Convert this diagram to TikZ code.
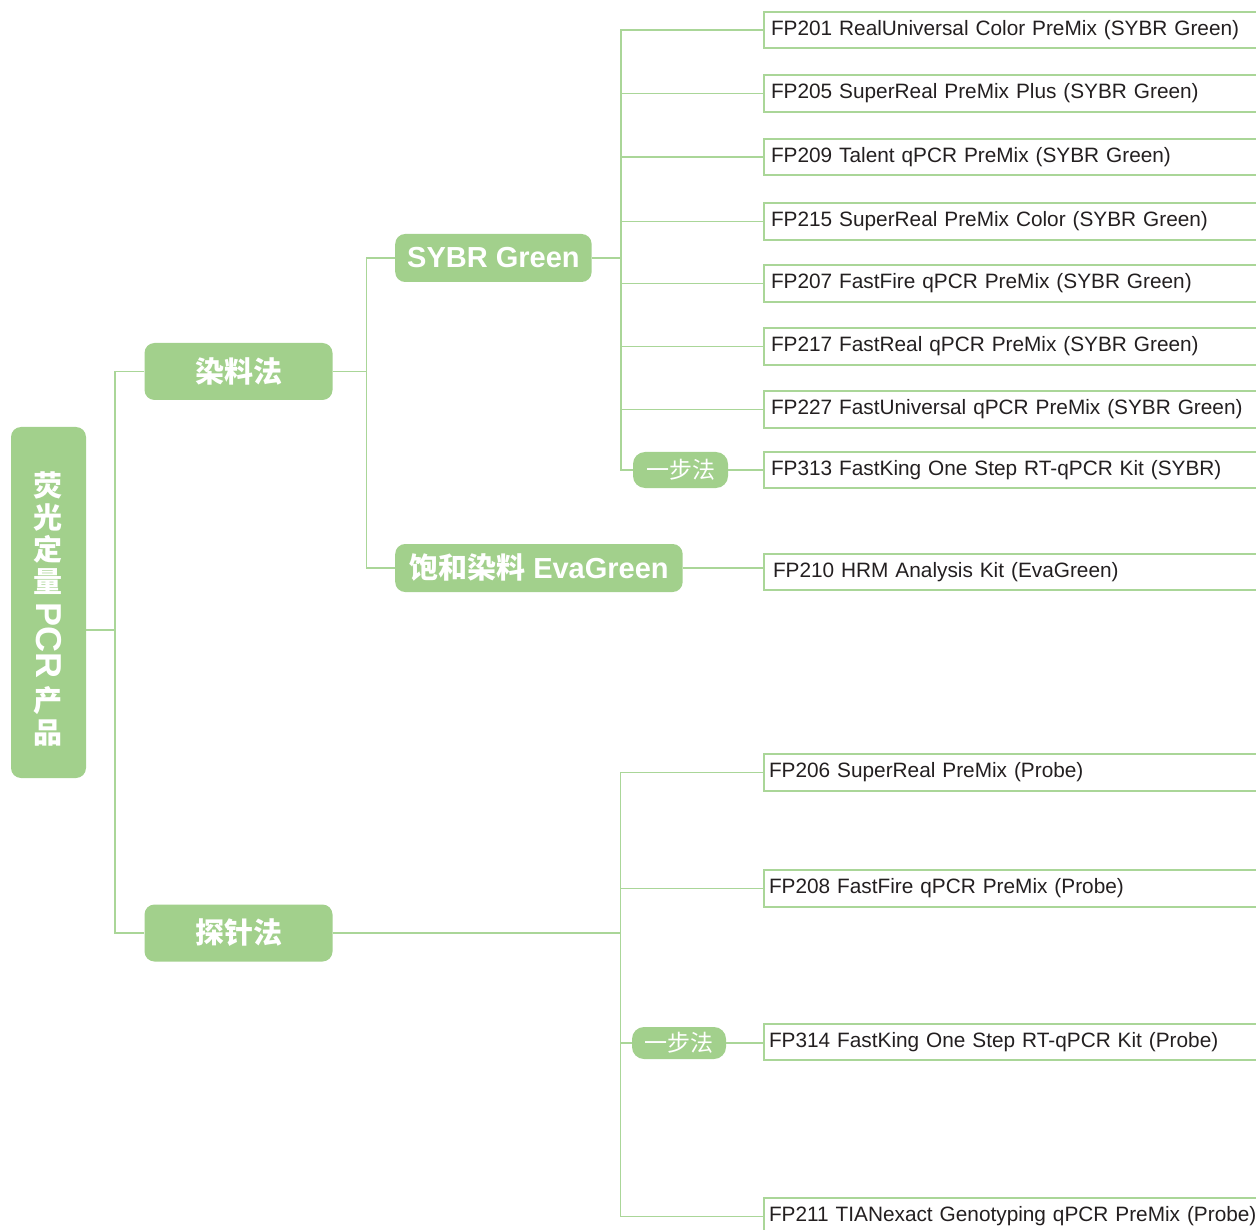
\documentclass[tikz,border=0pt]{standalone}
\usepackage{fontspec}
\setmainfont{Liberation Sans}
\newfontfamily\cjk{Noto Sans CJK SC}
\definecolor{leaf}{RGB}{162,208,140}
\definecolor{twig}{RGB}{170,214,152}
\definecolor{ink}{RGB}{35,31,32}
\tikzset{
  root/.style={fill=leaf, rounded corners=10pt, minimum width=75pt, minimum height=351pt,
    text=white, align=center, font=\fontsize{29}{32}\selectfont\bfseries\cjk},
  cat/.style={fill=leaf, rounded corners=10pt, minimum width=188pt, minimum height=57pt,
    text=white, font=\fontsize{29}{31}\selectfont\bfseries\cjk},
  sub/.style={fill=leaf, rounded corners=10pt, anchor=west, minimum height=48pt,
    inner xsep=12pt, text=white, font=\fontsize{29}{31}\selectfont\bfseries},
  onestep/.style={fill=leaf, rounded corners=12pt, minimum width=95pt, minimum height=36pt,
    text=white, font=\fontsize{23}{25}\selectfont\cjk},
  kit/.style={draw=twig, line width=2pt, anchor=west, minimum height=36.5pt,
    text width=560pt, inner xsep=7pt, align=left, text=ink, font=\fontsize{20.8}{24}\selectfont},
  link/.style={draw=twig, line width=1.5pt},
}
\begin{document}
\begin{tikzpicture}[x=1pt,y=-1pt]
      \clip (0,0) rectangle (1256,1230);

      % Stamm und Methoden
      \node[root] (root) at (48.5,602.5) {\rule{0pt}{37pt}荧\\光\\定\\量\\[7pt]\rotatebox[origin=c]{-90}{\fontsize{36}{36}\selectfont\rmfamily PCR}\\[7pt]产\\品};
      \node[cat] (dye) at (238.5,371.5) {染料法};
      \node[cat] (probe) at (238.5,933) {探针法};

      \node[sub] (sybr) at (395,258) {SYBR Green};
      \node[sub, inner xsep=14pt] (eva) at (395,568) {{\cjk 饱和染料} EvaGreen};

      \node[onestep] (step1) at (680.5,470) {一步法};
      \node[onestep, minimum width=94pt, minimum height=32pt] (step2) at (679,1043) {一步法};

      % Produkte SYBR Green
      \node[kit] (p201) at (763,30) {FP201 RealUniversal Color PreMix (SYBR Green)};
      \node[kit] (p205) at (763,93.5) {FP205 SuperReal PreMix Plus (SYBR Green)};
      \node[kit] (p209) at (763,157) {FP209 Talent qPCR PreMix (SYBR Green)};
      \node[kit] (p215) at (763,221.5) {FP215 SuperReal PreMix Color (SYBR Green)};
      \node[kit] (p207) at (763,283.5) {FP207 FastFire qPCR PreMix (SYBR Green)};
      \node[kit] (p217) at (763,346.5) {FP217 FastReal qPCR PreMix (SYBR Green)};
      \node[kit] (p227) at (763,409.5) {FP227 FastUniversal qPCR PreMix (SYBR Green)};
      \node[kit] (p313) at (763,470) {FP313 FastKing One Step RT-qPCR Kit (SYBR)};
      \node[kit, inner xsep=9pt] (p210) at (763,572) {FP210 HRM Analysis Kit (EvaGreen)};

      % Produkte Sonde
      \node[kit, inner xsep=5pt] (p206) at (763,772.5) {FP206 SuperReal PreMix (Probe)};
      \node[kit, inner xsep=5pt] (p208) at (763,888.5) {FP208 FastFire qPCR PreMix (Probe)};
      \node[kit, inner xsep=5pt] (p314) at (763,1042) {FP314 FastKing One Step RT-qPCR Kit (Probe)};
      \node[kit, inner xsep=5pt] (p211) at (763,1216.5) {FP211 TIANexact Genotyping qPCR PreMix (Probe)};

      % Verbindungen
      \coordinate (j0) at (115,630);
      \draw[link] (root.east |- j0) -- (j0);
      \draw[link] (dye.west) -| (j0) |- (probe.west);

      \coordinate (j1) at ([xshift=34pt]dye.east);
      \draw[link] (dye.east) -- (j1);
      \draw[link] (sybr.west) -| (j1) |- (eva.west);

      \coordinate (j2) at ([xshift=29pt]sybr.east);
      \draw[link] (sybr.east) -- (j2);
      \draw[link] (p201.west) -| (j2) |- (step1.west);
      \draw[link] (p205.west) -- (p205.west -| j2);
      \draw[link] (p209.west) -- (p209.west -| j2);
      \draw[link] (p215.west) -- (p215.west -| j2);
      \draw[link] (p207.west) -- (p207.west -| j2);
      \draw[link] (p217.west) -- (p217.west -| j2);
      \draw[link] (p227.west) -- (p227.west -| j2);
      \draw[link] (step1.east) -- (step1.east -| p313.west);
      \draw[link] (eva.east) -- (eva.east -| p210.west);

      \coordinate (j3) at ([xshift=288pt]probe.east);
      \draw[link] (probe.east) -- (j3);
      \draw[link] (p206.west) -| (j3) |- (p211.west);
      \draw[link] (p208.west) -- (p208.west -| j3);
      \draw[link] (step2.west) -- (step2.west -| j3);
      \draw[link] (step2.east) -- (step2.east -| p314.west);
\end{tikzpicture}
\end{document}
